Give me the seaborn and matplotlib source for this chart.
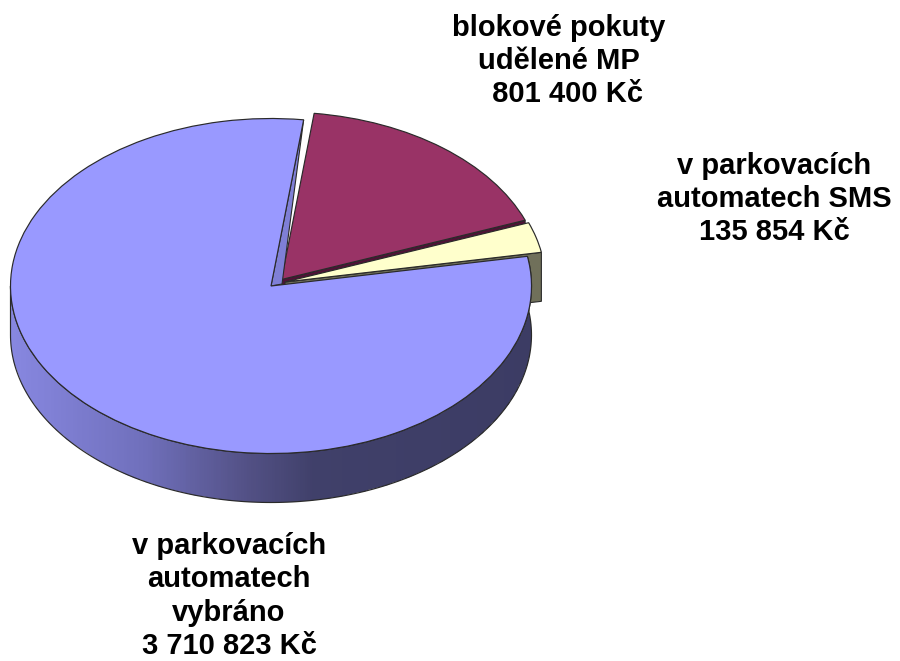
import numpy as np
import matplotlib
matplotlib.use("Agg")
import matplotlib.pyplot as plt
from matplotlib.colors import LinearSegmentedColormap
from matplotlib.patches import Polygon
import seaborn as sns

# order is counter-clockwise from the top gap
names = ["v parkovacích\nautomatech\nvybráno", "v parkovacích\nautomatech SMS", "blokové pokuty\nudělené MP"]
values = [3710823, 135854, 801400]
label_pad = ["", "", "  "]
colors = sns.color_palette(["#9999ff", "#ffffcc", "#993366"])
wall_colors = ["#7f7fd6", "#70705a", "#4f1236"]
label_pos = [(229, 596), (774, 199), (559, 61)]

W, H = 900, 661
CX, CY, RX, RY = 271, 286, 260.5, 167.5
DEPTH = 49 / RY
EDGE = "#2a2a2a"

sns.set_theme(style="white")
plt.rcParams["font.family"] = ["Liberation Sans", "DejaVu Sans"]

fig = plt.figure(figsize=(W / 100, H / 100), dpi=100)
ax = fig.add_axes([0, 0, 1, 1])

wedges, _ = ax.pie(values, colors=colors, startangle=82.8, radius=1,
                   wedgeprops=dict(edgecolor=EDGE, linewidth=0.85))
blue, cream, red = wedges
blue.set_zorder(5)
cream.set_zorder(4)
red.set_zorder(3)

# pulled out slices, offsets measured in pixels
cream.set_center((14 / RX, 4 / RY))
red.set_center((10.5 / RX, 6.5 / RY))

# pie is squashed into an ellipse through the axis limits
ax.set_aspect("auto")
ax.set_xlim(-CX / RX, (W - CX) / RX)
ax.set_ylim((CY - H) / RY, CY / RY)
ax.axis("off")


def edge_point(w, deg):
    t = np.deg2rad(deg)
    return np.array([w.center[0] + np.cos(t), w.center[1] + np.sin(t)])


# outer wall of the big slice, shaded from left to right
t = np.deg2rad(np.linspace(180, blue.theta2, 200))
top = np.column_stack([np.cos(t), np.sin(t)])
bottom = top[::-1] - [0, DEPTH]
outline = np.vstack([top, bottom])
clip = Polygon(outline, closed=True, facecolor="none", edgecolor=EDGE, linewidth=0.85, zorder=2)
ax.add_patch(clip)
shade = LinearSegmentedColormap.from_list(
    "wall", [(0, "#8787e0"), (0.25, "#7070bc"), (0.45, "#535186"), (0.58, "#40406a"), (1, "#3c3c64")])
xs = np.linspace(-1, 1, 300)
mesh = ax.pcolormesh(xs, [-1.5, 1.2], np.tile((xs[:-1] + 1) / 2, (1, 1)), cmap=shade,
                     vmin=0, vmax=1, zorder=1, shading="flat")
mesh.set_clip_path(clip)

# cut faces, cream one sits in front of the red one
for w, deg, col, z in [(red, red.theta1, wall_colors[2], 1.5), (cream, cream.theta1, wall_colors[1], 1.6)]:
    c = np.array(w.center)
    p = edge_point(w, deg)
    ax.add_patch(Polygon([c, p, p - [0, DEPTH], c - [0, DEPTH]], closed=True, facecolor=col,
                         edgecolor=EDGE, linewidth=0.8, zorder=z))

# sliver of the big slice visible in the gap by the red slice
ax.add_patch(Polygon([blue.center, edge_point(blue, blue.theta1), np.array(red.center) + [0.002, -4.5 / RY]],
                     closed=True, facecolor=wall_colors[0], edgecolor=EDGE, linewidth=0.8, zorder=4.5))

for name, val, pad, (px, py) in zip(names, values, label_pad, label_pos):
    txt = name + "\n" + pad + f"{val:,}".replace(",", " ") + " Kč"
    fig.text(px / W, 1 - py / H, txt, ha="center", va="center", ma="center",
             fontsize=21, fontweight="bold", color="black", linespacing=1.23)

fig.savefig("out.png", dpi=100)
